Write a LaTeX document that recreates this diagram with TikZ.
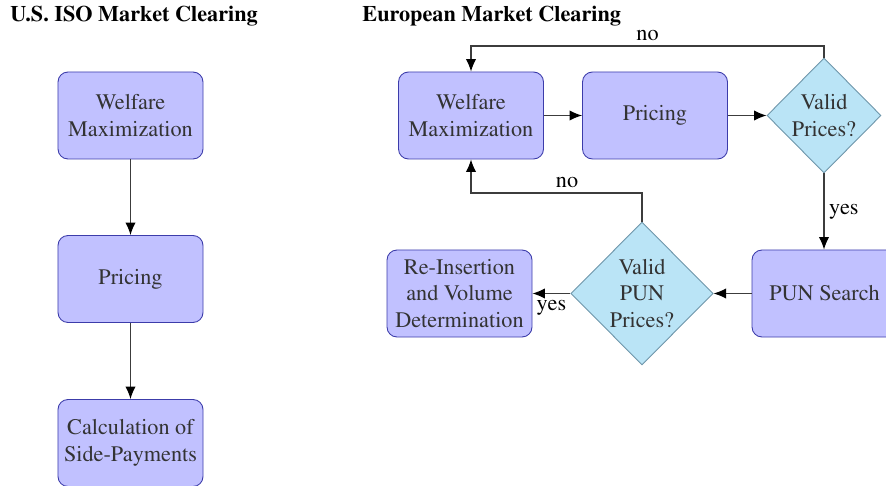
\documentclass[tikz,border=0pt]{standalone}
\usepackage[T1]{fontenc}
\usepackage{mathptmx}
\usetikzlibrary{shapes.geometric,arrows.meta}
\definecolor{boxfill}{RGB}{193,193,255}
\definecolor{boxdraw}{RGB}{60,60,170}
\definecolor{decfill}{RGB}{186,228,246}
\definecolor{decdraw}{RGB}{110,150,170}
\definecolor{linegray}{RGB}{60,60,60}
\tikzset{
  procbox/.style={rectangle, rounded corners=4.5pt, draw=boxdraw, fill=boxfill,
    minimum width=65.25pt, minimum height=39.15pt, align=center,
    text=black!80, inner sep=1pt, font=\fontsize{10}{12}\selectfont},
  decision/.style={diamond, aspect=1, draw=decdraw, fill=decfill, inner sep=0pt,
    align=center, text=black!80, font=\fontsize{10}{12}\selectfont},
  flow/.style={draw=linegray, line width=0.5pt, -{Latex[length=5.6pt,width=4.6pt,fill=black,color=black]}},
  lbl/.style={font=\fontsize{10}{12}\selectfont, inner sep=2pt},
  heading/.style={font=\fontsize{10}{12}\selectfont\bfseries, inner sep=0pt, anchor=base west}
}
\begin{document}
\begin{tikzpicture}[x=0.45pt, y=-0.45pt]
\useasboundingbox (0,0) rectangle (886,486);

% headings
\node[heading] (t1) at (10,22) {U.S. ISO Market Clearing};
\node[heading] (t2) at (362,22) {European Market Clearing};

% U.S. ISO flow
\node[procbox] (uw) at (130.5,115.5) {Welfare\\Maximization};
\node[procbox] (up) at (130.5,279) {Pricing};
\node[procbox] (uc) at (130.5,443) {Calculation of\\Side-Payments};
\draw[flow] (uw) -- (up);
\draw[flow] (up) -- (uc);

% European flow
\node[procbox] (ew) at (471,115.5) {Welfare\\Maximization};
\node[procbox] (ep) at (655,115.5) {Pricing};
\node[decision, minimum width=51.3pt, minimum height=51.75pt] (vp) at (824,115.5) {Valid\\Prices?};
\node[procbox] (pun) at (824.5,293.5) {PUN Search};
\node[decision, minimum width=64pt, minimum height=64.3pt] (vpun) at (642,293.5) {Valid\\PUN\\Prices?};
\node[procbox] (re) at (459.5,293.5) {Re-Insertion\\and Volume\\Determination};

\coordinate (c1) at (824,46);
\coordinate (c2) at (471,46);
\coordinate (c3) at (642,193);
\coordinate (c4) at (471,193);

\draw[flow] (ew) -- (ep);
\draw[flow] (ep) -- (vp);
\draw[flow] (vp.north) -- (c1) -- node[lbl, above] {no} (c2) -- (ew.north);
\draw[flow] (vp.south) -- node[lbl, right] {yes} (pun.north -| vp.south);
\draw[flow] (pun) -- (vpun);
\draw[flow] (vpun) -- node[lbl, below, inner sep=3pt] {yes} (re);
\draw[flow] (vpun.north) -- (c3) -- (c4) -- (ew.south);
\node[lbl, above] (nolbl) at (567,193) {no};
\end{tikzpicture}
\end{document}
